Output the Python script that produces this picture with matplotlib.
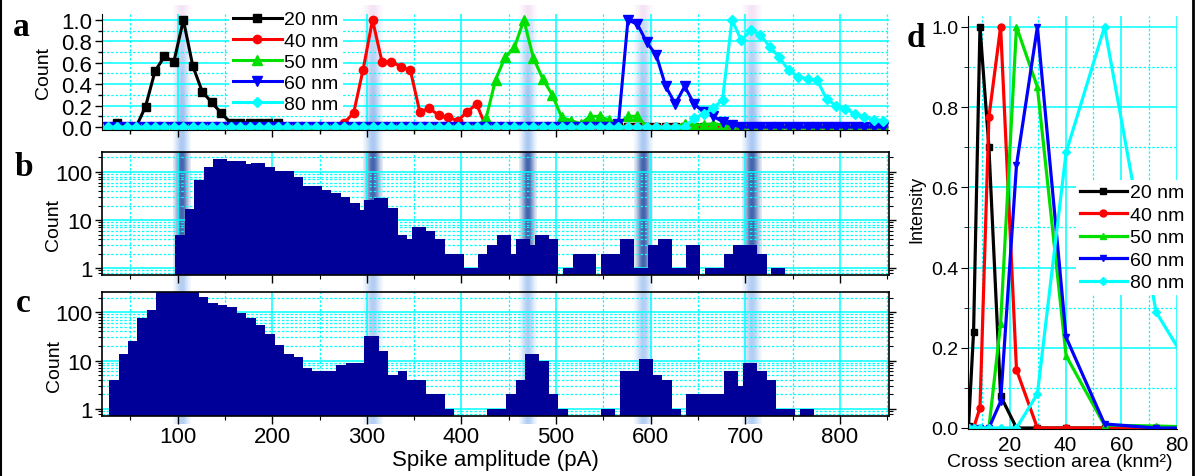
import numpy as np
import matplotlib
matplotlib.use('Agg')
import matplotlib.pyplot as plt
from matplotlib.ticker import MultipleLocator, FormatStrFormatter, LogLocator, NullFormatter
from matplotlib.lines import Line2D

plt.rcParams['font.family'] = ['Liberation Sans', 'DejaVu Sans']

W, H = 1201, 477

def box(l, t, r, b):
    # pixel box -> figure fraction
    return [l / W, 1 - b / H, (r - l) / W, (b - t) / H]

# ---------------- data ----------------
# panel a: normalised histograms, 10 pA bins
a_grid = np.arange(26, 847, 10)
a_labels = ['20 nm', '40 nm', '50 nm', '60 nm', '80 nm']
a_start = [26, 276, 426, 566, 646]
a_20 = [0, 0.04, 0, 0, 0.19, 0.52, 0.66, 0.61, 1.0, 0.57, 0.33, 0.23, 0.13,
        0.04, 0.04, 0.04, 0.04, 0.04, 0.04]
a_40 = [0.04, 0.13, 0.535, 1.0, 0.61, 0.61, 0.565, 0.53, 0.14, 0.175, 0.11,
        0.09, 0.06, 0.14, 0.215]
a_50 = [0.08, 0.44, 0.65, 0.745, 1.0, 0.645, 0.45, 0.30, 0.09, 0.06, 0.03,
        0.10, 0.10, 0.065, 0.03, 0.10, 0.10, 0, 0, 0, 0, 0.03, 0.02, 0.02,
        0.03, 0.02]
a_60 = [0.03, 1.0, 0.96, 0.79, 0.67, 0.38, 0.215, 0.38, 0.215, 0.14, 0.10,
        0.05, 0.02]
a_80 = [0.08, 0.12, 0.175, 0.255, 1.0, 0.81, 0.905, 0.86, 0.75, 0.65, 0.53,
        0.47, 0.45, 0.44, 0.26, 0.20, 0.17, 0.12, 0.09, 0.07, 0.06]

# panel b: counts in 5 pA bins, centres from 100 pA
b_first = 100
b_counts = [5, 5, 17, 17, 68, 68, 128, 128, 182, 182,
            182, 166, 168, 168, 168, 143, 150, 150, 150, 126,
            126, 104, 104, 104, 105, 78, 78, 52, 52, 52,
            52, 43, 43, 37, 37, 30, 30, 23, 23, 16,
            26, 26, 29, 29, 29, 18, 18, 5, 5, 4,
            7, 7, 7, 6, 6, 4, 4, 2, 2, 2,
            2, 1, 1, 1, 2, 2, 3, 3, 5, 5,
            5, 2, 4, 4, 4, 3, 5, 5, 5, 4,
            4, 0, 1, 1, 2, 2, 2, 2, 2, 0,
            2, 2, 2, 2, 4, 4, 4, 1, 1, 1,
            3, 3, 4, 4, 4, 1, 1, 1, 3, 3,
            3, 0, 1, 1, 1, 1, 2, 2, 3, 3,
            3, 3, 3, 2, 2, 0, 1, 1, 1]

# panel c: counts in 5 pA bins, centres from 30 pA
c_first = 30
c_counts = [4, 4, 14, 14, 25, 25, 74, 74, 113, 113,
            280, 280, 280, 280, 280, 280, 280, 280, 280, 204,
            204, 156, 156, 137, 137, 127, 127, 94, 94, 74,
            74, 55, 55, 36, 36, 21, 21, 14, 14, 12,
            12, 7, 7, 6, 6, 6, 6, 6, 8, 8,
            9, 9, 9, 9, 32, 32, 32, 16, 16, 5,
            5, 6, 6, 4, 4, 4, 4, 2, 2, 2,
            2, 1, 1, 0, 0, 0, 0, 0, 0, 0,
            1, 1, 1, 1, 2, 2, 4, 4, 14, 14,
            14, 10, 10, 2, 2, 1, 1, 0, 0, 0,
            0, 0, 0, 0, 1, 1, 1, 0, 6, 6,
            6, 6, 11, 11, 11, 5, 5, 4, 4, 1,
            1, 0, 2, 2, 2, 2, 2, 2, 2, 2,
            6, 6, 6, 3, 9, 9, 9, 6, 6, 4,
            4, 1, 1, 1, 1, 0, 1, 1, 1]

# shaded peak positions (pA)
band_lo = [95, 296, 461, 582, 697]
band_hi = [113, 317, 479, 602, 718]

# panel d: intensity vs cross section area
d_area = [5.2, 7.0, 9.3, 12.5, 16.7, 22.4, 29.9, 40.2, 54.0, 72.5, 97.0]
d_20 = [0.005, 0.24, 1.0, 0.70, 0.08, 0.0, 0.0, 0.0, 0.0, 0.0, 0.0]
d_40 = [0.0, 0.0, 0.05, 0.775, 1.0, 0.145, 0.0, 0.0, 0.0, 0.0, 0.0]
d_50 = [0.0, 0.0, 0.0, 0.0, 0.26, 1.0, 0.85, 0.18, 0.007, 0.005, 0.0]
d_60 = [0.0, 0.0, 0.0, 0.0, 0.066, 0.655, 1.0, 0.226, 0.01, 0.0, 0.0]
d_80 = [0.0, 0.0, 0.0, 0.0, 0.0, 0.0, 0.085, 0.687, 1.0, 0.289, 0.01]

colors = ['black', '#ff0000', '#00e000', '#0000ff', '#00ffff']
markers = ['s', 'o', '^', 'v', 'D']
msizes = [5.5, 6, 7, 7, 5]

CY = '#00ffff'
BAR = '#000099'

fig = plt.figure(figsize=(W / 100, H / 100), dpi=100)

# ---- shaded bands behind the three stacked panels ----
top, bot = 6, 425
ov = fig.add_axes(box(102, top, 889, bot), zorder=0)
ov.axis('off')
rows = np.arange(top, bot) + 0.5
rgb = np.zeros((len(rows), 3))
alp = np.zeros(len(rows))
for i, r in enumerate(rows):
    if r < 22:
        rgb[i] = (0.93, 0.82, 0.94); alp[i] = 0.6
    elif r < 131:
        rgb[i] = (0.42, 0.62, 0.90); alp[i] = 0.35 + 0.35 * (r - 22) / 109
    elif r < 153:
        rgb[i] = (0.45, 0.65, 0.92); alp[i] = 0.6
    elif r < 276:
        rgb[i] = (0.12, 0.28, 0.62); alp[i] = 0.85
    else:
        rgb[i] = (0.45, 0.65, 0.92); alp[i] = 0.55
u = np.linspace(0, 1, 40)
prof = np.exp(-((u - 0.5) / 0.35) ** 2)
img = np.zeros((len(rows), len(u), 4))
img[:, :, :3] = rgb[:, None, :]
img[:, :, 3] = alp[:, None] * prof[None, :]
for lo, hi in zip(band_lo, band_hi):
    ov.imshow(img, extent=(lo, hi, bot, top), origin='upper', aspect='auto',
              interpolation='bilinear')
ov.set_xlim(20, 852)
ov.set_ylim(bot, top)


def style_grid(ax):
    ax.set_facecolor('none')
    ax.grid(which='major', color=CY, lw=1.1, ls='-')
    ax.grid(which='minor', color=CY, lw=0.9, ls=(0, (2, 1.5)))
    ax.set_axisbelow(True)


# ---------------- panel a ----------------
ax_a = fig.add_axes(box(102, 15, 889, 131), zorder=1)
style_grid(ax_a)
handles = []
for lab, x0, seg, c, m, ms in zip(a_labels, a_start, [a_20, a_40, a_50, a_60, a_80],
                                 colors, markers, msizes):
    y = np.zeros(len(a_grid))
    i0 = int(np.where(a_grid == x0)[0][0])
    y[i0:i0 + len(seg)] = seg
    h, = ax_a.plot(a_grid, y, color=c, marker=m, ms=ms, lw=2.2, mec=c, label=lab)
    handles.append(h)
ax_a.set_xlim(20, 852)
ax_a.set_ylim(-0.028, 1.056)
ax_a.xaxis.set_major_locator(MultipleLocator(100))
ax_a.xaxis.set_minor_locator(MultipleLocator(50))
ax_a.yaxis.set_major_locator(MultipleLocator(0.2))
ax_a.yaxis.set_minor_locator(MultipleLocator(0.1))
ax_a.yaxis.set_major_formatter(FormatStrFormatter('%.1f'))
ax_a.tick_params(which='both', direction='out', labelsize=16, pad=2, labelbottom=False)
ax_a.tick_params(which='major', length=5, width=1)
ax_a.tick_params(which='minor', length=3, width=1)
ax_a.spines['top'].set_visible(False)
ax_a.spines['right'].set_visible(False)
ax_a.set_ylabel('Count', fontsize=14)
ax_a.yaxis.set_label_coords(-0.0635, 0.5)
ax_a.legend(handles=handles, loc='upper left', bbox_to_anchor=(229 / W, 1 - 8 / H),
            bbox_transform=fig.transFigure, fontsize=14, frameon=True,
            fancybox=False, facecolor='white', edgecolor='none', framealpha=1,
            borderpad=0.2, handlelength=2.5, handletextpad=0.15,
            labelspacing=0.175, borderaxespad=0)


def hist_panel(ax, first, counts, show_x):
    style_grid(ax)
    counts = np.asarray(counts, float)
    xs = first + 5 * np.arange(len(counts))
    keep = counts > 0
    ax.bar(xs[keep], counts[keep] - 0.1, bottom=0.1, width=5, color=BAR,
           lw=0, zorder=2)
    ax.set_yscale('log')
    ax.set_xlim(20, 852)
    ax.set_ylim(0.72, 260)
    ax.set_yticks([1, 10, 100], ['1', '10', '100'])
    ax.yaxis.set_minor_locator(LogLocator(base=10, subs=np.arange(2, 10)))
    ax.yaxis.set_minor_formatter(NullFormatter())
    ax.xaxis.set_major_locator(MultipleLocator(100))
    ax.xaxis.set_minor_locator(MultipleLocator(50))
    ax.tick_params(which='both', direction='out', labelsize=16, pad=2,
                   right=True, labelbottom=show_x)
    ax.tick_params(which='major', length=5, width=1)
    ax.tick_params(which='minor', length=3, width=0.8)
    ax.tick_params(axis='x', which='major', length=6, pad=1.5)
    for s in ax.spines.values():
        s.set_linewidth(1.2)
        s.set_zorder(3)
    ax.set_ylabel('Count', fontsize=14)


ax_b = fig.add_axes(box(102, 153, 889, 276), zorder=1)
hist_panel(ax_b, b_first, b_counts, False)
ax_b.yaxis.set_label_coords(-0.051, 0.415)

ax_c = fig.add_axes(box(102, 293, 889, 417), zorder=1)
hist_panel(ax_c, c_first, c_counts, True)
ax_c.yaxis.set_label_coords(-0.050, 0.41)
ax_c.set_xlabel('Spike amplitude (pA)', fontsize=16)
ax_c.xaxis.set_label_coords(0.5, -0.27)

# ---------------- panel d ----------------
ax_d = fig.add_axes(box(968, 17, 1177, 430), zorder=1)
style_grid(ax_d)
dh = []
for lab, ys, c, m in zip(a_labels, [d_20, d_40, d_50, d_60, d_80], colors, markers):
    h, = ax_d.plot(d_area, ys, color=c, marker=m, ms=5 if m != 'D' else 4.5,
                   lw=2.3, mec=c, label=lab)
    dh.append(h)
ax_d.set_xlim(5, 80)
ax_d.set_ylim(-0.0025, 1.027)
ax_d.xaxis.set_major_locator(MultipleLocator(20))
ax_d.xaxis.set_minor_locator(MultipleLocator(10))
ax_d.yaxis.set_major_locator(MultipleLocator(0.2))
ax_d.yaxis.set_minor_locator(MultipleLocator(0.1))
ax_d.yaxis.set_major_formatter(FormatStrFormatter('%.1f'))
ax_d.tick_params(axis='y', which='both', direction='out', labelsize=14, pad=2)
ax_d.tick_params(axis='y', which='major', length=5)
ax_d.tick_params(axis='y', which='minor', length=3)
ax_d.tick_params(axis='x', which='both', length=0, pad=4, labelsize=15)
ax_d.spines['top'].set_visible(False)
ax_d.spines['right'].set_visible(False)
ax_d.set_ylabel('Intensity', fontsize=13)
ax_d.yaxis.set_label_coords(-0.206, 0.533)
ax_d.set_xlabel('Cross section area (knm²)', fontsize=14)
ax_d.xaxis.set_label_coords(0.44, -0.057)
ax_d.legend(handles=dh, loc='upper left', bbox_to_anchor=(1076 / W, 1 - 181 / H),
            bbox_transform=fig.transFigure, fontsize=14, frameon=True,
            fancybox=False, facecolor='white', edgecolor='none', framealpha=1,
            borderpad=0.2, handlelength=2.42, handletextpad=0.15,
            labelspacing=0.25, borderaxespad=0)

# panel letters
for letter, px, py in [('a', 13, 36), ('b', 15, 176), ('c', 16, 312), ('d', 907, 47)]:
    fig.text(px / W, 1 - py / H, letter, family='Liberation Serif', weight='bold',
             fontsize=24, va='baseline', ha='left')

# frame lines at the left and right edges
fig.add_artist(Line2D([1 / W, 1 / W], [0, 1], color='black', lw=1.5,
                      transform=fig.transFigure))
fig.add_artist(Line2D([1193 / W, 1193 / W], [0, 1], color='black', lw=2,
                      transform=fig.transFigure))

fig.savefig('out.png', dpi=100)
